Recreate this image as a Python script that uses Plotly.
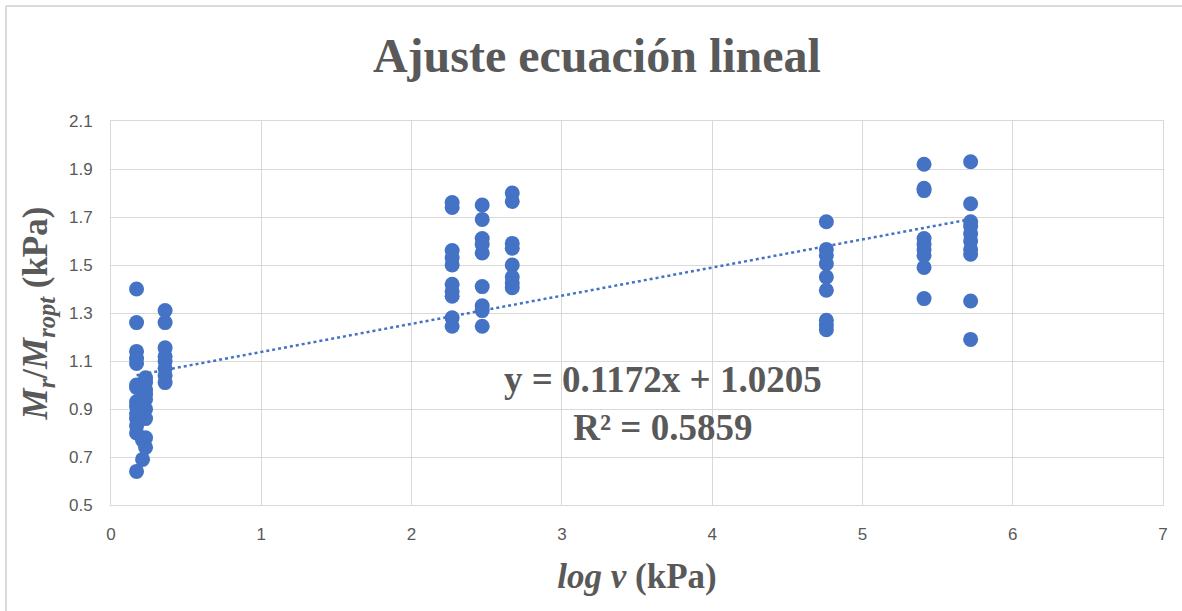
import plotly.graph_objects as go

# log v (kPa) for each test point
log_v = (
    [0.17] * 14
    + [0.21] * 4
    + [0.23] * 9
    + [0.36] * 8
    + [2.27] * 10
    + [2.47] * 9
    + [2.67] * 8
    + [4.76] * 9
    + [5.41] * 9
    + [5.72] * 10
)

# Normalised resilient modulus Mr/Mropt
mr_ratio = (
    [1.40, 1.26, 1.14, 1.11, 1.09, 1.00, 0.99, 0.93, 0.91, 0.88, 0.86, 0.83, 0.80, 0.64]
    + [0.69, 0.77, 0.92, 0.95]
    + [1.03, 1.01, 0.98, 0.96, 0.94, 0.90, 0.86, 0.78, 0.74]
    + [1.31, 1.26, 1.155, 1.12, 1.10, 1.07, 1.04, 1.01]
    + [1.76, 1.74, 1.56, 1.53, 1.50, 1.42, 1.39, 1.37, 1.28, 1.245]
    + [1.75, 1.69, 1.61, 1.585, 1.55, 1.41, 1.33, 1.31, 1.245]
    + [1.80, 1.765, 1.59, 1.57, 1.50, 1.45, 1.425, 1.405]
    + [1.68, 1.565, 1.54, 1.505, 1.45, 1.395, 1.27, 1.25, 1.23]
    + [1.92, 1.82, 1.81, 1.61, 1.585, 1.565, 1.54, 1.49, 1.36]
    + [1.93, 1.755, 1.68, 1.66, 1.63, 1.60, 1.565, 1.545, 1.35, 1.19]
)

# Linear fit reported on the chart
slope = 0.1172
intercept = 1.0205
r_squared = 0.5859

x_ticks = [0, 1, 2, 3, 4, 5, 6, 7]
y_ticks = [0.5, 0.7, 0.9, 1.1, 1.3, 1.5, 1.7, 1.9, 2.1]

blue = "#4472C4"
grid = "#d9d9d9"
text_grey = "#595959"

fit_x = [min(log_v), max(log_v)]
fit_y = [slope * v + intercept for v in fit_x]

fig = go.Figure()
fig.add_trace(go.Scatter(
    x=fit_x, y=fit_y, mode="lines",
    line=dict(color=blue, width=2.5, dash="dot"),
    hoverinfo="skip", showlegend=False,
))
fig.add_trace(go.Scatter(
    x=log_v, y=mr_ratio, mode="markers",
    marker=dict(color=blue, size=15, line=dict(width=0)),
    showlegend=False,
))

fig.update_layout(
    width=1182, height=611,
    margin=dict(l=111, r=19, t=121, b=106),
    paper_bgcolor="white", plot_bgcolor="white",
    title=dict(
        text="<b>Ajuste ecuación lineal</b>",
        x=0.505, xanchor="center", y=0.91, yanchor="middle",
        font=dict(family="Liberation Serif", size=48, color=text_grey),
    ),
    xaxis=dict(
        range=[0, 7], tickvals=x_ticks, ticktext=[str(t) for t in x_ticks],
        showgrid=True, gridcolor=grid, gridwidth=1,
        zeroline=False, showline=True, linecolor=grid, linewidth=1, mirror=True,
        ticks="", ticklabelstandoff=14,
        tickfont=dict(family="Liberation Sans Narrow, Liberation Sans", size=17, color=text_grey),
        title=dict(
            text="<b><i>log v</i> (kPa)</b>",
            font=dict(family="Liberation Serif", size=35, color=text_grey),
            standoff=20,
        ),
    ),
    yaxis=dict(
        range=[0.5, 2.1], tickvals=y_ticks, ticktext=[f"{t:.1f}" for t in y_ticks],
        showgrid=True, gridcolor=grid, gridwidth=1,
        zeroline=False, showline=True, linecolor=grid, linewidth=1, mirror=True,
        ticks="", ticklabelstandoff=14,
        tickfont=dict(family="Liberation Sans Narrow, Liberation Sans", size=17, color=text_grey),
        title=dict(
            text="<b><i>M</i><sub><i>r</i></sub>/<i>M</i><sub><i>ropt</i></sub> (kPa)</b>",
            font=dict(family="Liberation Serif", size=35, color=text_grey),
            standoff=10,
        ),
    ),
    annotations=[
        dict(
            text=f"<b>y = {slope:.4f}x + {intercept:.4f}<br>R² = {r_squared:.4f}</b>",
            xref="x", yref="y", x=3.67, y=0.925,
            xanchor="center", yanchor="middle", showarrow=False, align="center",
            font=dict(family="Liberation Serif", size=37, color=text_grey),
        ),
    ],
    shapes=[
        # chart frame, left and top edges
        dict(type="line", xref="paper", yref="paper",
             x0=-0.0998, x1=1.02, y0=1.2995, y1=1.2995,
             line=dict(color=grid, width=2)),
        dict(type="line", xref="paper", yref="paper",
             x0=-0.0998, x1=-0.0998, y0=1.2995, y1=-0.28,
             line=dict(color=grid, width=2)),
    ],
)

fig.write_html("out.html")
